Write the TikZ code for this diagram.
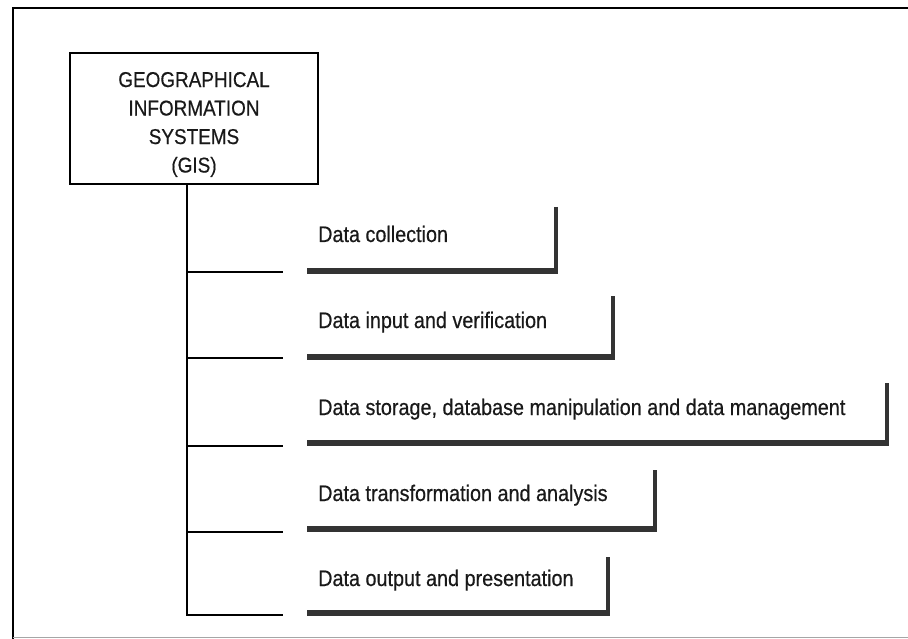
\documentclass[tikz,border=0pt]{standalone}
\usepackage{fontspec}
\setmainfont{Liberation Sans}[FakeStretch=0.88, FakeBold=0.5]
\usetikzlibrary{positioning}

\begin{document}
\begin{tikzpicture}[x=1pt, y=-1pt,
  every node/.style={font=\fontsize{22.5}{26}\selectfont, text=black!90},
  title/.style={draw, line width=2.2pt, minimum width=248pt, minimum height=131pt,
    inner sep=0pt, align=center, font=\fontsize{21.5}{28.5}\selectfont},
  task/.style={anchor=base west, inner sep=0pt},
  tree/.style={line width=1.8pt},
  shelf/.style={line width=6.5pt, draw=black!80},
  post/.style={line width=4pt, draw=black!80}]

\useasboundingbox (0,0) rectangle (908,639);
% frame, open on the right
\draw[line width=2.5pt] (908,8) -- (13,8) -- (13,639);
\draw[line width=1pt, black!35] (13,637) -- (908,637);

\node[title] (gis) at (194,118.5)
  {\rule{0pt}{27pt}GEOGRAPHICAL\\INFORMATION\\SYSTEMS\\(GIS)};

\node[task] (collect) at (318,242) {Data collection};
\node[task] (input)   at (318,328) {Data input and verification};
\node[task] (store)   at (318,415) {Data storage, database manipulation and data management};
\node[task] (analyse) at (318,501) {Data transformation and analysis};
\node[task] (output)  at (318,586) {Data output and presentation};

% tree off the box
\coordinate (root) at ([xshift=-7pt]gis.south);
\coordinate (b1) at (283,272);
\coordinate (b2) at (283,358);
\coordinate (b3) at (283,446);
\coordinate (b4) at (283,532);
\coordinate (b5) at (283,615);
\draw[tree] (root) |- (b1);
\draw[tree] (root) |- (b2);
\draw[tree] (root) |- (b3);
\draw[tree] (root) |- (b4);
\draw[tree] (root) |- (b5);

% heavy underline with a post at its right end
\draw[shelf] (307,271) -- (558,271);  \draw[post] (556,207) -- (556,274);
\draw[shelf] (307,357) -- (615,357);  \draw[post] (613,296) -- (613,360);
\draw[shelf] (307,443) -- (889,443);  \draw[post] (887,383) -- (887,446);
\draw[shelf] (307,529) -- (657,529);  \draw[post] (655,470) -- (655,532);
\draw[shelf] (307,613) -- (610,613);  \draw[post] (608,557) -- (608,616);
\end{tikzpicture}
\end{document}
